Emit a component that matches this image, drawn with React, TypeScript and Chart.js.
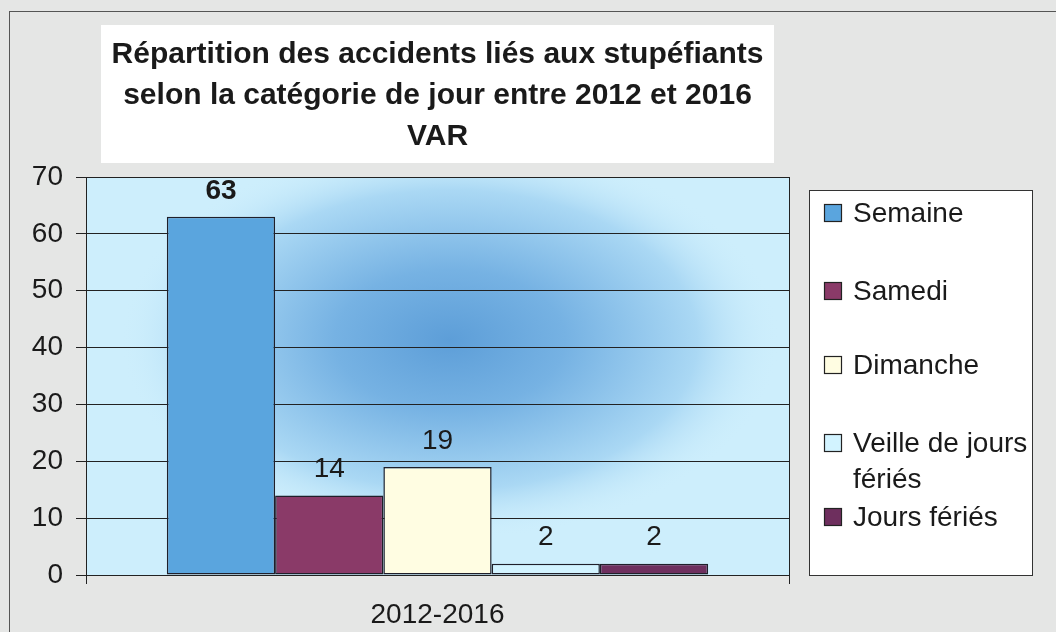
import React, { useEffect, useRef } from "react";
import Chart from "chart.js/auto";

const categories = ["2012-2016"];
const seriesNames = ["Semaine", "Samedi", "Dimanche", "Veille de jours fériés", "Jours fériés"];
const legendLines = [["Semaine"], ["Samedi"], ["Dimanche"], ["Veille de jours", "fériés"], ["Jours fériés"]];
const seriesValues = [63, 14, 19, 2, 2];
const seriesColors = ["#5aa5de", "#8a3a68", "#fffde2", "#d2f3ff", "#6e2f5e"];
const boldLabel = [true, false, false, false, false];
const titleLines = [
  "Répartition des accidents liés aux stupéfiants",
  "selon la catégorie de jour entre 2012 et 2016",
  "VAR",
];
const yTicks = { min: 0, max: 70, step: 10 };

const FONT = "'Liberation Sans', Arial, sans-serif";

const backgroundPlugin = {
  id: "bgPlugin",
  beforeDraw(chart: any) {
    const { ctx, chartArea } = chart;
    const W = chart.width;
    const H = chart.height;
    ctx.save();
    ctx.fillStyle = "#e5e6e5";
    ctx.fillRect(0, 0, W, H);
    ctx.strokeStyle = "#555";
    ctx.lineWidth = 1;
    ctx.strokeRect(9.5, 11.5, W + 10, H + 10);

    // title box
    ctx.fillStyle = "#ffffff";
    ctx.fillRect(101, 25, 673, 138);
    ctx.fillStyle = "#1a1a1a";
    ctx.font = `bold 30px ${FONT}`;
    ctx.textAlign = "center";
    ctx.textBaseline = "alphabetic";
    titleLines.forEach((t, i) => ctx.fillText(t, 437.5, 63 + i * 41));

    // plot area gradient
    const { left, top, right, bottom } = chartArea;
    const cx = 450, cy = 340;
    const rx = 330, ry = 200;
    ctx.save();
    ctx.beginPath();
    ctx.rect(left, top, right - left, bottom - top);
    ctx.clip();
    ctx.fillStyle = "#cdeefc";
    ctx.fillRect(left, top, right - left, bottom - top);
    ctx.translate(cx, cy);
    ctx.scale(rx / ry, 1);
    const g = ctx.createRadialGradient(0, 0, 0, 0, 0, ry);
    g.addColorStop(0, "#5d9ed8");
    g.addColorStop(0.35, "#76b2e3");
    g.addColorStop(0.75, "#aad8f4");
    g.addColorStop(1, "rgba(205,238,252,0)");
    ctx.fillStyle = g;
    ctx.fillRect(-ry * 3, -ry * 3, ry * 6, ry * 6);
    ctx.restore();

    // legend box
    ctx.fillStyle = "#ffffff";
    ctx.fillRect(809, 190, 223, 385);
    ctx.strokeStyle = "#333";
    ctx.strokeRect(809.5, 190.5, 223, 385);
    const ys = [213, 291, 365, 443, 517];
    ctx.font = `28px ${FONT}`;
    ctx.textAlign = "left";
    ctx.textBaseline = "middle";
    chart.data.datasets.forEach((ds: any, i: number) => {
      const y = ys[i];
      ctx.fillStyle = ds.backgroundColor;
      ctx.fillRect(824, y - 9, 18, 18);
      ctx.strokeStyle = "#222";
      ctx.lineWidth = 1.2;
      ctx.strokeRect(824.5, y - 8.5, 17, 17);
      ctx.fillStyle = "#1a1a1a";
      legendLines[i].forEach((line, j) => ctx.fillText(line, 853, y + 1 + j * 36));
    });
    ctx.restore();
  },
};

const valueLabelPlugin = {
  id: "valueLabels",
  afterDatasetsDraw(chart: any) {
    const { ctx } = chart;
    ctx.save();
    ctx.textAlign = "center";
    ctx.textBaseline = "middle";
    ctx.fillStyle = "#1a1a1a";
    chart.data.datasets.forEach((ds: any, i: number) => {
      const meta = chart.getDatasetMeta(i);
      meta.data.forEach((bar: any, j: number) => {
        ctx.font = `${boldLabel[i] ? "bold " : ""}28px ${FONT}`;
        ctx.fillText(String(ds.data[j]), bar.x, bar.y - 26);
      });
    });
    ctx.restore();
  },
};

export default function App() {
  const ref = useRef<HTMLCanvasElement>(null);
  useEffect(() => {
    if (!ref.current) return;
    const chart = new Chart(ref.current, {
      type: "bar",
      data: {
        labels: categories,
        datasets: seriesNames.map((name, i) => ({
          label: name,
          data: [seriesValues[i]],
          backgroundColor: seriesColors[i],
          borderColor: "#1f1f2a",
          borderWidth: 1.5,
          borderSkipped: false,
          barPercentage: 1,
          categoryPercentage: 0.77,
        })),
      },
      options: {
        responsive: false,
        animation: false,
        layout: { padding: { left: 9, right: 267, top: 177, bottom: 0 } },
        plugins: {
          legend: { display: false },
          title: { display: false },
          tooltip: { enabled: false },
        },
        scales: {
          x: {
            offset: true,
            grid: {
              display: true,
              offset: true,
              drawOnChartArea: true,
              color: "#222",
              lineWidth: 1,
              tickLength: 9,
            },
            border: { display: true, color: "#222", width: 1 },
            ticks: { color: "#1a1a1a", font: { family: FONT, size: 28 }, padding: 14 },
            afterFit: (s: any) => { s.height = 57; },
          },
          y: {
            min: yTicks.min,
            max: yTicks.max,
            ticks: {
              stepSize: yTicks.step,
              color: "#1a1a1a",
              font: { family: FONT, size: 28 },
              padding: 13,
            },
            grid: { color: "#222", lineWidth: 1, tickLength: 10 },
            border: { display: true, color: "#222", width: 1 },
            afterFit: (s: any) => { s.width = 77; },
          },
        },
      },
      plugins: [backgroundPlugin, valueLabelPlugin],
    });
    return () => chart.destroy();
  }, []);
  return (
    <div style={{ position: "fixed", left: 0, top: 0, width: 1056, height: 632 }}>
      <canvas ref={ref} width={1056} height={632} style={{ width: 1056, height: 632, display: "block" }} />
    </div>
  );
}
